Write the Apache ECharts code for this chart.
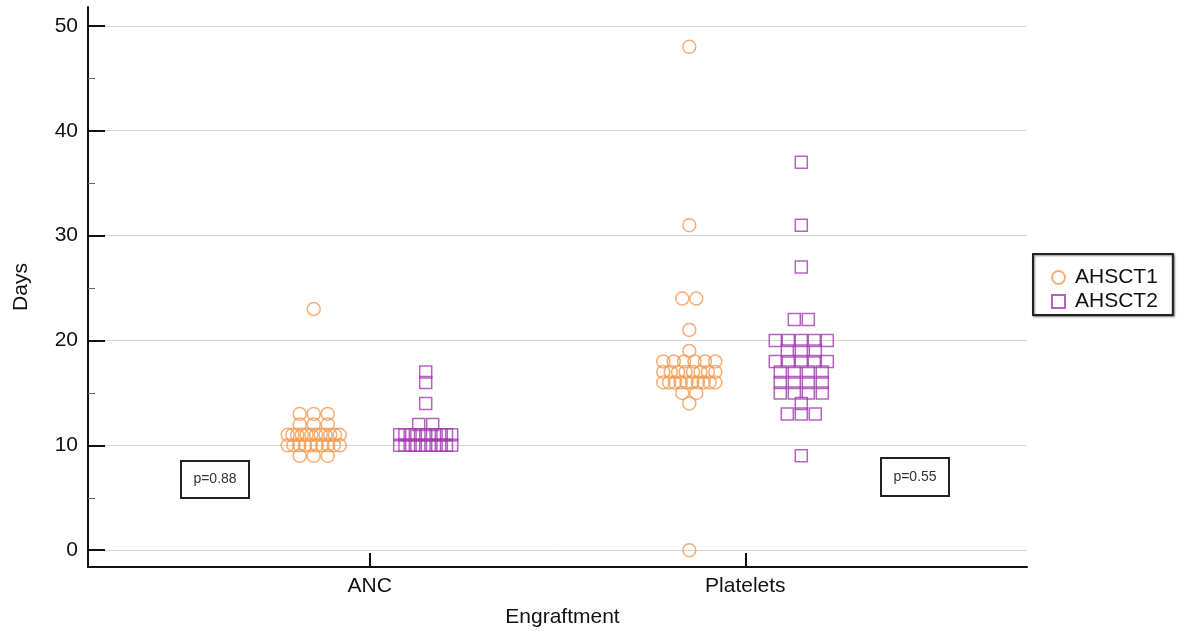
<!DOCTYPE html>
<html><head><meta charset="utf-8">
<script src="https://cdn.jsdelivr.net/npm/echarts@6/dist/echarts.min.js"></script>
<style>html,body{margin:0;padding:0;background:#fff}#c{width:1187px;height:635px}</style>
</head><body><div id="c"></div>
<script>
// ---- data ----
const categories = ['ANC', 'Platelets'];
const seriesNames = ['AHSCT1', 'AHSCT2'];
const yTicks = [0, 10, 20, 30, 40, 50];
const yMinorTicks = [5, 15, 25, 35, 45];
const pValues = ['p=0.88', 'p=0.55'];

const ancAHSCT1 = [23, 13, 13, 13, 12, 12, 12,
  11, 11, 11, 11, 11, 11, 11, 11, 11, 11, 11, 11,
  10, 10, 10, 10, 10, 10, 10, 10, 10, 10,
  9, 9, 9];
const ancAHSCT2 = [17, 16, 14, 12, 12,
  11, 11, 11, 11, 11, 11, 11, 11, 11, 11, 11,
  10, 10, 10, 10, 10, 10, 10, 10, 10, 10, 10];
const pltAHSCT1 = [48, 31, 24, 24, 21, 19,
  18, 18, 18, 18, 18, 18,
  17, 17, 17, 17, 17, 17, 17, 17,
  16, 16, 16, 16, 16, 16, 16, 16, 16, 16,
  15, 15, 14, 0];
const pltAHSCT2 = [37, 31, 27, 22, 22,
  20, 20, 20, 20, 20,
  19, 19, 19,
  18, 18, 18, 18, 18,
  17, 17, 17, 17,
  16, 16, 16, 16,
  15, 15, 15, 15,
  14, 13, 13, 13, 9];

// ---- layout (dot-plot arrangement) ----
const X_MIN = -0.75, X_MAX = 1.75;
const GRID_W = 939;
const UNITS_PER_PX = (X_MAX - X_MIN) / GRID_W;
const SPACING = 14, MAXSPAN = 52, SIDE = 56;

function swarm(values, catIndex, sidePx) {
  const counts = {};
  values.forEach(v => counts[v] = (counts[v] || 0) + 1);
  const seen = {};
  return values.map(v => {
    const n = counts[v];
    seen[v] = (seen[v] || 0) + 1;
    const i = seen[v] - 1;
    const sp = n > 1 ? Math.min(SPACING, MAXSPAN / (n - 1)) : 0;
    const off = (i - (n - 1) / 2) * sp;
    return [catIndex + (sidePx + off) * UNITS_PER_PX, v];
  });
}

const orange = '#F29A50';
const purple = '#A23CB0';
const font = 'Arial, "Liberation Sans", sans-serif';

const chart = echarts.init(document.getElementById('c'), null, {renderer: 'canvas'});
chart.setOption({
  backgroundColor: '#fff',
  animation: false,
  textStyle: {fontFamily: font},
  grid: {left: 88, right: 160, top: 7, bottom: 68, containLabel: false},
  legend: {
    orient: 'vertical', left: 1033, top: 254,
    padding: [13, 15, 3, 18],
    itemGap: 3, itemWidth: 13, itemHeight: 13,
    borderColor: '#222', borderWidth: 2,
    backgroundColor: '#fff',
    shadowColor: 'rgba(0,0,0,0.45)', shadowBlur: 2, shadowOffsetX: 1, shadowOffsetY: 1,
    selectedMode: false,
    textStyle: {fontSize: 21, color: '#111', fontFamily: font, padding: [0, 0, 0, 5]},
    data: [
      {name: seriesNames[0], icon: 'circle'},
      {name: seriesNames[1], icon: 'rect'}
    ]
  },
  xAxis: {
    type: 'value', min: X_MIN, max: X_MAX,
    name: 'Engraftment', nameLocation: 'middle', nameGap: 40,
    nameTextStyle: {fontSize: 21, color: '#111', fontFamily: font, padding: [0, 0, 0, 10]},
    axisLine: {show: true, onZero: false, lineStyle: {color: '#111', width: 2}},
    axisTick: {show: true, inside: true, length: 14, customValues: [0, 1], lineStyle: {color: '#111', width: 2}},
    axisLabel: {customValues: [0, 1], margin: 9, fontSize: 21, color: '#111', fontFamily: font,
      formatter: v => categories[Math.round(v)]},
    splitLine: {show: false}
  },
  yAxis: [{
    type: 'value', min: -1.6, max: 51.8,
    name: 'Days', nameLocation: 'middle', nameGap: 56,
    nameTextStyle: {fontSize: 21, color: '#111', fontFamily: font},
    axisLine: {show: true, onZero: false, lineStyle: {color: '#111', width: 2}},
    axisTick: {show: true, inside: true, length: 17, customValues: yTicks, lineStyle: {color: '#111', width: 2}},
    axisLabel: {customValues: yTicks, margin: 10, fontSize: 21, color: '#111', fontFamily: font},
    splitLine: {show: true, lineStyle: {color: '#d4d4d4', width: 1}}
  }, {
    type: 'value', min: -1.6, max: 51.8, position: 'left',
    axisLine: {show: false, onZero: false},
    axisTick: {show: true, inside: true, length: 7, customValues: yMinorTicks, lineStyle: {color: '#666', width: 1}},
    axisLabel: {show: false},
    splitLine: {show: false}
  }],
  graphic: [
    {type: 'group', left: 180, top: 460, children: [
      {type: 'rect', shape: {x: 0, y: 0, width: 68, height: 37}, style: {fill: '#fff', stroke: '#222', lineWidth: 2}},
      {type: 'text', x: 34, y: 18.5, style: {text: pValues[0], fontSize: 14, fill: '#333', fontFamily: font, align: 'center', verticalAlign: 'middle'}}
    ]},
    {type: 'group', left: 880, top: 457, children: [
      {type: 'rect', shape: {x: 0, y: 0, width: 68, height: 38}, style: {fill: '#fff', stroke: '#222', lineWidth: 2}},
      {type: 'text', x: 34, y: 19, style: {text: pValues[1], fontSize: 14, fill: '#333', fontFamily: font, align: 'center', verticalAlign: 'middle'}}
    ]}
  ],
  series: [{
    name: seriesNames[0], type: 'scatter', symbol: 'circle', symbolSize: 13,
    itemStyle: {color: 'rgba(255,255,255,0)', borderColor: orange, borderWidth: 1.5},
    emphasis: {disabled: true}, silent: true,
    data: swarm(ancAHSCT1, 0, -SIDE).concat(swarm(pltAHSCT1, 1, -SIDE))
  }, {
    name: seriesNames[1], type: 'scatter', symbol: 'rect', symbolSize: 12,
    itemStyle: {color: 'rgba(255,255,255,0)', borderColor: purple, borderWidth: 1.5},
    emphasis: {disabled: true}, silent: true,
    data: swarm(ancAHSCT2, 0, SIDE).concat(swarm(pltAHSCT2, 1, SIDE))
  }]
});
</script>
</body></html>
